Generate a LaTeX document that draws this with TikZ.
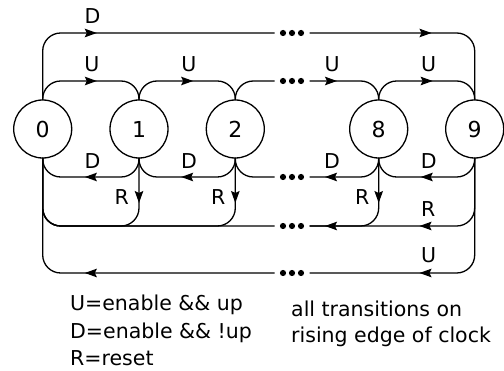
\documentclass[tikz,border=0pt]{standalone}
\usepackage{fontspec}
\setmainfont{DejaVu Sans}
\usetikzlibrary{arrows.meta,decorations.markings}

\tikzset{
  wire/.style={line width=1.3pt, rounded corners=18pt},
  stnode/.style={circle, draw, line width=1.3pt, minimum size=58pt,
    inner sep=0pt, outer sep=0pt, font=\fontsize{22}{26}\selectfont},
  gap/.style={minimum width=35pt, minimum height=6pt, inner sep=0pt, outer sep=0pt},
  lab/.style={anchor=base, inner sep=0pt, font=\fontsize{20.5}{24}\selectfont},
  note/.style={anchor=base west, inner sep=0pt, font=\fontsize{20.5}{24}\selectfont},
  % arrow head centred at a given position along the wire
  arr/.style={postaction={decorate, decoration={markings,
    mark=at position #1 with {\arrow[xshift=6pt, sharp corners]{Stealth[length=12pt,width=8.5pt,inset=2pt]}}}}},
}

\begin{document}
\begin{tikzpicture}[x=1pt, y=-1pt]
\useasboundingbox (0,0) rectangle (504,371);

% rows of the wiring
\coordinate (rowT) at (0,33);
\coordinate (rowU) at (0,81);
\coordinate (rowD) at (0,177);
\coordinate (rowR) at (0,226);
\coordinate (rowB) at (0,273);

% states
\node[stnode] (s0) at (42.7,129) {0};
\node[stnode] (s1) at (139,129) {1};
\node[stnode] (s2) at (235.3,129) {2};
\node[stnode] (s8) at (378.7,129) {8};
\node[stnode] (s9) at (474.7,129) {9};

% breaks in the long wires, filled with dots
\node[gap] (dT) at (292,33) {};
\node[gap] (dU) at (292,81) {};
\node[gap] (dD) at (292,177) {};
\node[gap] (dR) at (292,226) {};
\node[gap] (dB) at (292,273) {};
\foreach \d in {dT,dU,dD,dR,dB}
  \foreach \i in {-9,0,9}
    \fill ([xshift=\i pt]\d.center) circle (3.1pt);

% wrap-around D: 0 -> 9
\draw[wire, arr=107.4pt] (s0.north) |- (dT.west);
\draw[wire, arr=116pt] (dT.east) -| (s9.north);

% U: count up
\draw[wire, arr=0.5] (s0.north) |- (s1.north |- rowU) -- (s1.north);
\draw[wire, arr=0.5] (s1.north) |- (s2.north |- rowU) -- (s2.north);
\draw[wire] (s2.north) |- (dU.west);
\draw[wire, arr=21.5pt] (dU.east) -| (s8.north);
\draw[wire, arr=0.5] (s8.north) |- (s9.north |- rowU) -- (s9.north);

% D: count down
\draw[wire, arr=0.5] (s1.south) |- (s0.south |- rowD) -- (s0.south);
\draw[wire, arr=0.5] (s2.south) |- (s1.south |- rowD) -- (s1.south);
\draw[wire] (dD.west) -| (s2.south);
\draw[wire, arr=59pt] (s8.south) |- (dD.east);
\draw[wire, arr=0.5] (s9.south) |- (s8.south |- rowD) -- (s8.south);

% R: reset bus back to 0
\draw[wire] (dR.west) -| (s0.south);
\draw[wire, arr=39pt] (s1.south) |- (s0.south |- rowR) -- (s0.south);
\draw[wire, arr=39pt] (s2.south) |- (s0.south |- rowR) -- (s0.south);
\draw[wire, arr=39pt] (s8.south) |- (dR.east);
\draw[wire, arr=109.5pt, arr=204pt] (s9.south) |- (dR.east);

% wrap-around U: 9 -> 0
\draw[wire, arr=156.5pt] (s9.south) |- (dB.east);
\draw[wire, arr=183.7pt] (dB.west) -| (s0.south);

% wire labels
\node[lab] (lDT) at (92.5,24) {D};
\node[lab] (lU1) at (92,72) {U};
\node[lab] (lU2) at (188.8,72) {U};
\node[lab] (lU8) at (332,72) {U};
\node[lab] (lU9) at (428.7,72) {U};
\node[lab] (lD1) at (92.5,168.3) {D};
\node[lab] (lD2) at (189,168.3) {D};
\node[lab] (lD8) at (332,168.3) {D};
\node[lab] (lD9) at (428.7,168.3) {D};
\node[lab] (lR1) at (121.7,205) {R};
\node[lab] (lR2) at (218.3,205) {R};
\node[lab] (lR8) at (362.3,205) {R};
\node[lab] (lR9) at (428.3,216.7) {R};
\node[lab] (lUB) at (428.5,263) {U};

% legend
\node[note] (k1) at (70,310.5) {U=enable \&\& up};
\node[note] (k2) at (70,338.3) {D=enable \&\& !up};
\node[note] (k3) at (70,366) {R=reset};
\node[note] (n1) at (291,317) {all transitions on};
\node[note] (n2) at (291,343) {rising edge of clock};
\end{tikzpicture}
\end{document}
